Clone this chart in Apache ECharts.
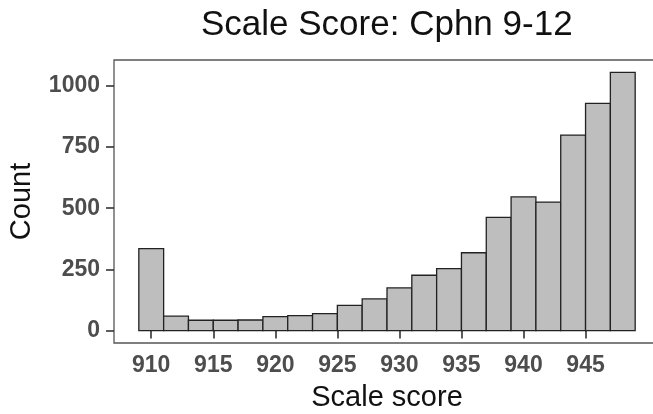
<!DOCTYPE html>
<html>
<head>
<meta charset="utf-8">
<script src="https://cdn.jsdelivr.net/npm/echarts@6/dist/echarts.min.js"></script>
<style>
html,body{margin:0;padding:0;background:#fff;}
#chart{width:653px;height:414px;}
</style>
</head>
<body>
<div id="chart"></div>
<script>
const binCenters = [910,912,914,916,918,920,922,924,926,928,930,932,934,936,938,940,942,944,946,948];
const counts = [335,59,42,42,43,57,61,69,103,129,174,226,253,318,463,546,525,799,929,1055];
const binWidth = 2;
const xTicks = [910,915,920,925,930,935,940,945];
const yTicks = [0,250,500,750,1000];

const FONT = 'Liberation Sans, Arial, Helvetica, sans-serif';
const chart = echarts.init(document.getElementById('chart'), null, {renderer:'canvas'});
chart.setOption({
  animation: false,
  backgroundColor: '#fff',
  title: {
    text: 'Scale Score: Cphn 9-12',
    left: 196, top: 3,
    textStyle: {fontFamily: FONT, fontSize: 35, fontWeight: 'normal', color: '#111'}
  },
  grid: {
    left: 114, top: 60, width: 546, height: 283,
    outerBoundsMode: 'none', containLabel: false,
    show: true, borderColor: '#555', borderWidth: 1.3, backgroundColor: '#fff'
  },
  xAxis: {
    type: 'value', min: 907, max: 951,
    name: 'Scale score', nameLocation: 'middle', nameGap: 40,
    nameTextStyle: {fontFamily: FONT, fontSize: 29, color: '#111'},
    axisLine: {show: false},
    axisTick: {show: true, length: 8, customValues: xTicks, lineStyle: {color: '#333', width: 1.6}},
    axisLabel: {customValues: xTicks, margin: 11, fontFamily: FONT, fontSize: 23, fontWeight: 'bold', color: '#4d4d4d',
      formatter: v => String(v)},
    splitLine: {show: false}
  },
  yAxis: {
    type: 'value', min: -51, max: 1106,
    name: 'Count', nameLocation: 'middle', nameGap: 78,
    nameTextStyle: {fontFamily: FONT, fontSize: 29, color: '#111'},
    axisLine: {show: false},
    axisTick: {show: true, length: 8, customValues: yTicks, lineStyle: {color: '#333', width: 1.6}},
    axisLabel: {customValues: yTicks, margin: 14, fontFamily: FONT, fontSize: 23, fontWeight: 'bold', color: '#4d4d4d',
      formatter: v => String(v)},
    splitLine: {show: false}
  },
  series: [{
    type: 'custom',
    data: binCenters.map((c, i) => [c, counts[i]]),
    renderItem: function (params, api) {
      const x = api.value(0), y = api.value(1);
      const p0 = api.coord([x - binWidth / 2, y]);
      const p1 = api.coord([x + binWidth / 2, 0]);
      return {
        type: 'rect',
        shape: {x: p0[0], y: p0[1], width: p1[0] - p0[0], height: p1[1] - p0[1]},
        style: {fill: '#bebebe', stroke: '#222', lineWidth: 1.3}
      };
    }
  }]
});
</script>
</body>
</html>
